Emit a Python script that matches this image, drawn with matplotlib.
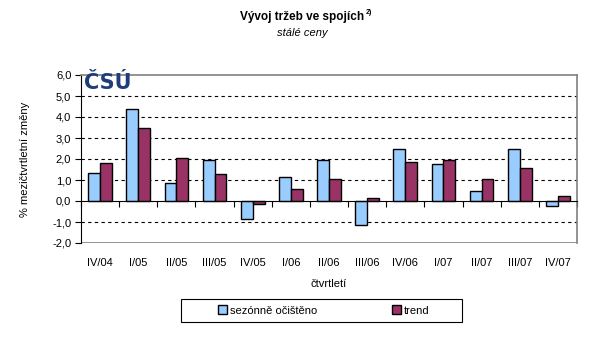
import matplotlib.pyplot as plt
import numpy as np
from matplotlib.patches import Rectangle

plt.rcParams["font.family"] = ["Liberation Sans", "DejaVu Sans"]

# data
quarters = ["IV/04", "I/05", "II/05", "III/05", "IV/05", "I/06", "II/06",
            "III/06", "IV/06", "I/07", "II/07", "III/07", "IV/07"]
seasonally_adjusted = [1.35, 4.4, 0.88, 1.97, -0.85, 1.12, 1.97,
                       -1.13, 2.5, 1.78, 0.5, 2.5, -0.23]
trend = [1.8, 3.5, 2.03, 1.27, -0.13, 0.55, 1.03,
         0.15, 1.85, 1.97, 1.03, 1.55, 0.25]
y_ticks = [-2, -1, 0, 1, 2, 3, 4, 5, 6]

fig = plt.figure(figsize=(6.04, 3.61), dpi=100)
ax = fig.add_axes([81 / 604, 1 - 243 / 361, 496 / 604, 168 / 361])

x = np.arange(len(quarters))
w = 0.31
ax.bar(x - w / 2, seasonally_adjusted, w, color="#99ccff", edgecolor="black",
       linewidth=1.0, label="sezónně očištěno", zorder=3)
ax.bar(x + w / 2, trend, w, color="#993366", edgecolor="black",
       linewidth=1.0, label="trend", zorder=3)

# dashed gridlines
for v in [-1, 1, 2, 3, 4, 5]:
    ax.axhline(v, color="black", linestyle=(0, (3, 3)), linewidth=0.8, zorder=1)

ax.set_xlim(-0.5, len(quarters) - 0.5)
ax.set_ylim(-2, 6)
ax.set_yticks(y_ticks)
ax.set_yticklabels([f"{v:.1f}".replace(".", ",") for v in y_ticks], fontsize=8)
ax.tick_params(axis="y", length=4, width=0.8, pad=3)

# x axis at zero, labels at the bottom
ax.spines["bottom"].set_position(("data", 0))
ax.spines["bottom"].set_color("black")
ax.spines["bottom"].set_zorder(4)
ax.set_xticks(x)
ax.set_xticklabels(quarters, fontsize=8)
ax.tick_params(axis="x", length=0, pad=41)
ax.set_xticks(np.arange(len(quarters) + 1) - 0.5, minor=True)
ax.tick_params(axis="x", which="minor", length=4, width=0.8, direction="out")
ax.axhline(-2, color="#808080", linewidth=1.2, zorder=2)
ax.spines["top"].set_color("#808080")
ax.spines["right"].set_color("#808080")
ax.spines["top"].set_linewidth(1.2)
ax.spines["right"].set_linewidth(1.2)
ax.spines["left"].set_color("black")

ax.set_ylabel("% mezičtvrtletní změny", fontsize=8, labelpad=16)
fig.text(329 / 604, 1 - 284 / 361, "čtvrtletí", ha="center", va="center",
         fontsize=8)

# logo
ax.text(0.006, 1.012, "ČSÚ", transform=ax.transAxes, fontsize=15,
        fontweight="heavy", color="#1f3d7a", family="DejaVu Sans",
        ha="left", va="top", zorder=5, clip_on=False)

fig.text(0.5, 1 - 17 / 361, "Vývoj tržeb ve spojích", ha="center",
         va="center", fontsize=8.5, fontweight="bold")
fig.text(366 / 604, 1 - 12 / 361, "2)", ha="left", va="center",
         fontsize=5, fontweight="bold")
fig.text(0.5, 1 - 33 / 361, "stálé ceny", ha="center", va="center",
         fontsize=8, style="italic")

# legend with separate frame
fig.add_artist(Rectangle((181 / 604, 1 - 322 / 361), 281 / 604, 23 / 361,
                         transform=fig.transFigure, fill=False,
                         edgecolor="black", linewidth=0.8))
leg = fig.legend(loc="center left", bbox_to_anchor=(218 / 604, 1 - 310.5 / 361),
                 ncol=2, fontsize=8, frameon=False, handlelength=0.8,
                 handleheight=0.8, columnspacing=6.7, borderpad=0,
                 borderaxespad=0, handletextpad=0.3)

fig.savefig("out.png", dpi=100)
